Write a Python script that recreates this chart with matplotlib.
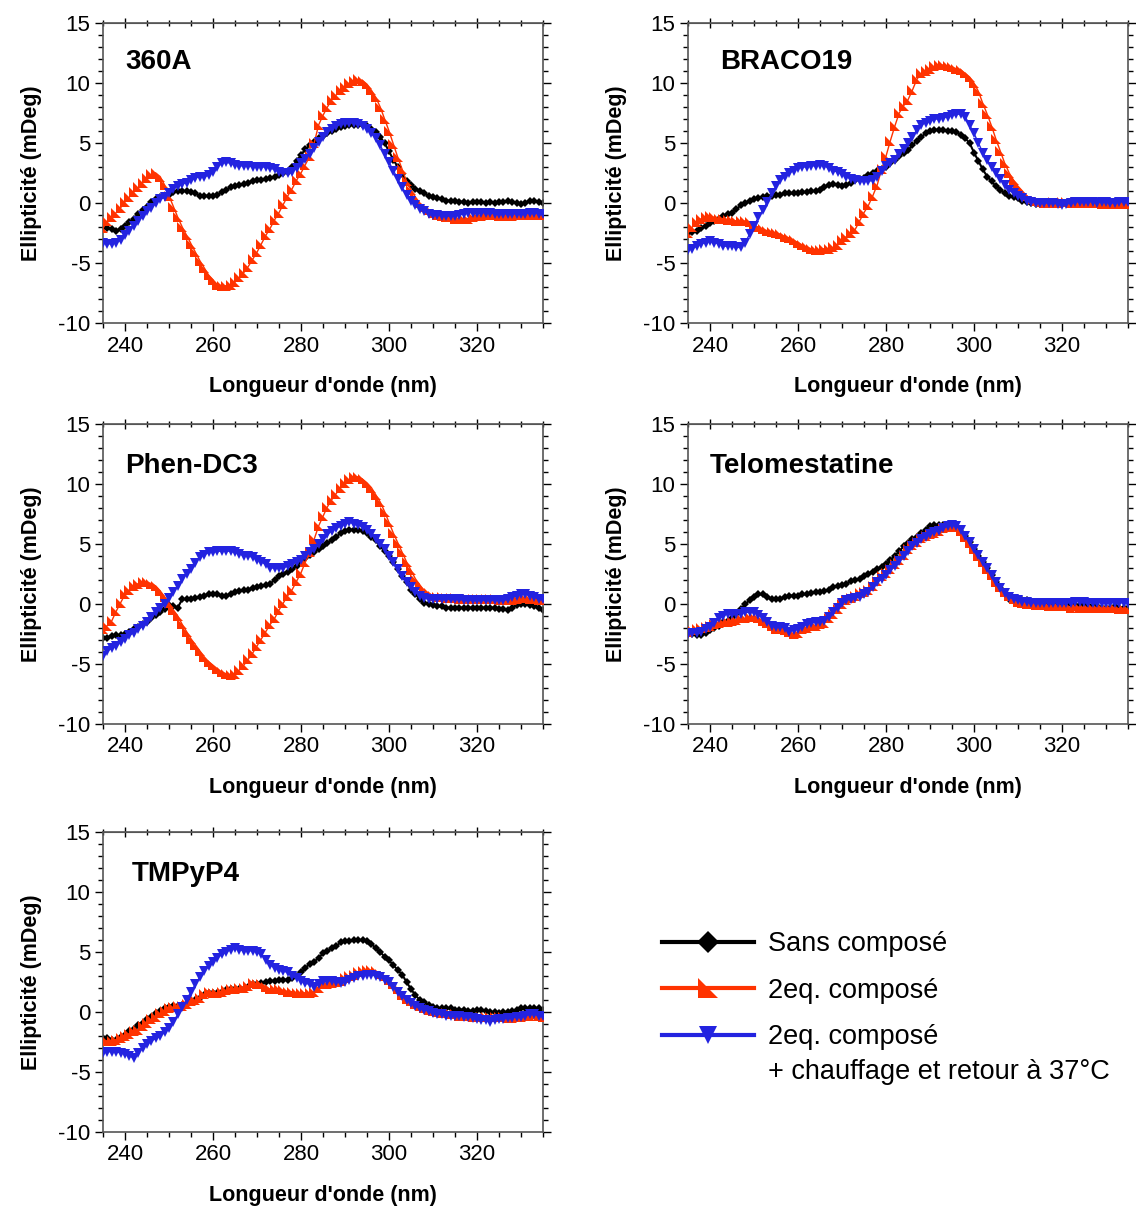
import numpy as np
import matplotlib
matplotlib.use("Agg")
import matplotlib.pyplot as plt
from matplotlib.lines import Line2D
from matplotlib.ticker import MultipleLocator

plt.rcParams['font.family'] = ['Liberation Sans', 'DejaVu Sans']
plt.rcParams['axes.unicode_minus'] = False

# wavelength grid (nm), one point per nm
wl = np.arange(235, 336)

# ---- 360A ----
sans_360a = [-2.0, -2.1, -2.2, -2.3, -2.2, -1.9, -1.6, -1.3, -0.9, -0.6,
             -0.3, 0.1, 0.3, 0.5, 0.6, 0.7, 0.9, 1.0, 1.0, 1.0,
             0.9, 0.8, 0.6, 0.6, 0.6, 0.6, 0.7, 0.9, 1.1, 1.3,
             1.4, 1.5, 1.6, 1.7, 1.8, 1.9, 1.9, 2.0, 2.1, 2.2,
             2.3, 2.5, 2.6, 3.0, 3.5, 4.0, 4.5, 4.8, 5.1, 5.4,
             5.6, 5.8, 6.0, 6.2, 6.3, 6.4, 6.5, 6.5, 6.5, 6.5,
             6.4, 6.2, 5.9, 5.5, 5.0, 4.3, 3.6, 3.0, 2.4, 1.8,
             1.5, 1.2, 1.0, 0.8, 0.6, 0.5, 0.4, 0.3, 0.2, 0.2,
             0.2, 0.1, 0.1, 0.0, 0.1, 0.1, 0.1, 0.0, 0.1, 0.0,
             0.1, 0.1, 0.2, 0.1, 0.0, -0.1, 0.0, 0.2, 0.2, 0.1,
             0.0]
eq2_360a = [-2.1, -1.5, -1.2, -0.8, -0.4, 0.1, 0.5, 0.9, 1.3, 1.7,
            2.1, 2.4, 2.5, 2.2, 1.5, 0.6, -0.3, -1.2, -2.0, -2.7,
            -3.4, -4.1, -4.8, -5.4, -6.0, -6.4, -6.8, -6.9, -6.9, -6.8,
            -6.6, -6.2, -5.8, -5.3, -4.7, -4.1, -3.4, -2.7, -2.1, -1.4,
            -0.8, -0.1, 0.6, 1.2, 1.9, 2.5, 3.2, 3.9, 5.0, 6.5,
            7.3, 8.0, 8.6, 9.0, 9.4, 9.7, 10.0, 10.2, 10.3, 10.2,
            9.9, 9.4, 8.8, 8.0, 7.0, 6.0, 4.9, 3.8, 2.8, 1.8,
            1.1, 0.5, 0.0, -0.3, -0.6, -0.8, -1.0, -1.1, -1.2, -1.2,
            -1.3, -1.3, -1.3, -1.3, -1.2, -1.1, -1.1, -1.0, -1.0, -1.0,
            -1.1, -1.1, -1.1, -1.1, -1.0, -1.0, -1.0, -1.0, -1.0, -1.0,
            -1.0]
chauf_360a = [-3.3, -3.4, -3.4, -3.3, -3.1, -2.7, -2.3, -1.9, -1.5, -1.1,
              -0.7, -0.4, 0.0, 0.3, 0.5, 0.8, 1.2, 1.4, 1.6, 1.7,
              1.9, 2.1, 2.2, 2.2, 2.3, 2.6, 3.0, 3.3, 3.4, 3.3,
              3.2, 3.1, 3.1, 3.1, 3.0, 3.0, 3.0, 3.0, 2.9, 2.8,
              2.6, 2.5, 2.5, 2.6, 2.9, 3.3, 3.7, 4.1, 4.6, 5.1,
              5.5, 5.9, 6.2, 6.4, 6.6, 6.7, 6.7, 6.7, 6.6, 6.4,
              6.2, 5.8, 5.4, 4.8, 4.1, 3.4, 2.7, 2.0, 1.3, 0.7,
              0.2, -0.2, -0.5, -0.7, -0.9, -1.0, -1.0, -1.1, -1.1, -1.1,
              -1.1, -1.0, -0.9, -0.8, -0.8, -0.8, -0.8, -0.8, -0.8, -0.9,
              -0.9, -0.9, -0.9, -0.9, -0.9, -0.9, -0.9, -0.8, -0.8, -0.9,
              -0.9]

# ---- BRACO19 ----
sans_braco = [-2.5, -2.4, -2.3, -2.1, -1.9, -1.7, -1.5, -1.3, -1.1, -0.9,
              -0.8, -0.5, -0.2, 0.0, 0.2, 0.3, 0.4, 0.5, 0.6, 0.6,
              0.7, 0.7, 0.8, 0.8, 0.8, 0.8, 0.9, 0.9, 1.0, 1.0,
              1.1, 1.3, 1.5, 1.6, 1.5, 1.4, 1.5, 1.7, 1.9, 2.0,
              2.1, 2.3, 2.5, 2.7, 2.8, 3.0, 3.3, 3.6, 3.9, 4.2,
              4.4, 4.8, 5.2, 5.5, 5.8, 6.0, 6.1, 6.1, 6.1, 6.0,
              6.0, 5.9, 5.7, 5.4, 5.0, 4.2, 3.5, 2.8, 2.2, 1.8,
              1.4, 1.1, 0.8, 0.6, 0.5, 0.4, 0.2, 0.1, 0.0, -0.1,
              -0.1, 0.0, 0.0, 0.0, -0.1, -0.1, 0.0, 0.0, 0.1, 0.0,
              0.0, 0.1, 0.0, 0.0, 0.0, 0.0, 0.1, 0.0, 0.0, -0.1,
              -0.1]
eq2_braco = [-2.5, -2.0, -1.6, -1.3, -1.2, -1.1, -1.2, -1.3, -1.3, -1.4,
             -1.4, -1.5, -1.5, -1.5, -1.6, -1.9, -2.0, -2.2, -2.3, -2.4,
             -2.5, -2.6, -2.8, -2.9, -3.1, -3.3, -3.5, -3.7, -3.8, -3.9,
             -3.9, -3.8, -3.8, -3.7, -3.5, -3.1, -2.8, -2.5, -2.2, -1.5,
             -0.8, -0.2, 0.6, 1.5, 2.8, 3.9, 5.2, 6.4, 7.5, 8.1,
             8.6, 9.4, 10.3, 10.8, 11.0, 11.2, 11.4, 11.5, 11.5, 11.4,
             11.3, 11.2, 11.1, 10.8, 10.5, 10.0, 9.3, 8.3, 7.4, 6.4,
             5.3, 4.3, 3.3, 2.5, 1.9, 1.4, 1.0, 0.6, 0.3, 0.2,
             0.1, 0.0, 0.0, 0.1, 0.0, 0.1, 0.1, 0.0, 0.1, 0.0,
             0.0, 0.1, 0.0, 0.0, -0.1, -0.1, 0.0, -0.1, -0.1, -0.1,
             -0.1]
chauf_braco = [-3.9, -3.8, -3.6, -3.4, -3.3, -3.2, -3.3, -3.4, -3.6, -3.6,
               -3.6, -3.7, -3.7, -3.3, -2.6, -1.9, -1.2, -0.6, 0.1, 0.8,
               1.4, 1.9, 2.2, 2.5, 2.7, 2.9, 3.0, 3.0, 3.1, 3.1,
               3.2, 3.1, 2.9, 2.7, 2.6, 2.4, 2.2, 2.0, 1.9, 1.8,
               1.8, 1.8, 1.9, 2.2, 2.7, 3.1, 3.3, 3.6, 4.1, 4.5,
               5.0, 5.5, 6.1, 6.5, 6.7, 6.8, 7.0, 7.0, 7.1, 7.2,
               7.3, 7.4, 7.4, 7.2, 6.5, 5.8, 5.0, 4.2, 3.6, 3.0,
               2.5, 2.0, 1.5, 1.1, 0.8, 0.6, 0.4, 0.2, 0.1, 0.0,
               0.0, 0.0, 0.0, 0.0, -0.1, -0.2, -0.1, 0.0, 0.1, 0.1,
               0.1, 0.1, 0.1, 0.0, 0.1, 0.1, 0.0, 0.0, 0.1, 0.1,
               0.1]

# ---- Phen-DC3 ----
sans_phen = [-2.8, -2.8, -2.7, -2.6, -2.6, -2.5, -2.3, -2.1, -1.9, -1.7,
             -1.5, -1.2, -0.9, -0.7, -0.4, -0.1, -0.2, -0.3, 0.4, 0.4,
             0.4, 0.5, 0.6, 0.7, 0.8, 0.8, 0.8, 0.7, 0.7, 0.8,
             1.0, 1.1, 1.2, 1.2, 1.3, 1.4, 1.5, 1.6, 1.7, 2.0,
             2.3, 2.5, 2.7, 2.9, 3.2, 3.5, 3.8, 4.1, 4.3, 4.6,
             4.8, 5.1, 5.3, 5.6, 5.9, 6.1, 6.2, 6.2, 6.2, 6.1,
             5.9, 5.6, 5.3, 4.8, 4.4, 4.0, 3.5, 2.9, 2.3, 1.8,
             1.2, 0.8, 0.4, 0.1, 0.0, -0.1, -0.2, -0.2, -0.3, -0.3,
             -0.3, -0.3, -0.3, -0.3, -0.3, -0.3, -0.3, -0.3, -0.3, -0.3,
             -0.4, -0.4, -0.5, -0.3, -0.1, 0.0, 0.0, -0.1, -0.2, -0.3,
             -0.5]
eq2_phen = [-2.1, -1.8, -1.4, -0.6, 0.1, 0.8, 1.2, 1.5, 1.7, 1.8,
            1.8, 1.7, 1.5, 1.1, 0.6, 0.1, -0.5, -1.0, -1.7, -2.3,
            -2.9, -3.4, -3.9, -4.4, -4.8, -5.1, -5.4, -5.7, -5.8, -5.9,
            -5.8, -5.5, -5.1, -4.6, -4.1, -3.5, -2.9, -2.3, -1.7, -1.2,
            -0.5, 0.1, 0.7, 1.2, 1.9, 2.6, 3.5, 4.3, 5.4, 6.5,
            7.3, 8.1, 8.7, 9.2, 9.7, 10.1, 10.4, 10.6, 10.6, 10.4,
            10.1, 9.7, 9.1, 8.5, 7.7, 6.8, 5.9, 5.1, 4.3, 3.5,
            2.8, 2.1, 1.6, 1.1, 0.9, 0.7, 0.6, 0.6, 0.5, 0.5,
            0.5, 0.4, 0.4, 0.4, 0.4, 0.4, 0.4, 0.4, 0.4, 0.4,
            0.3, 0.3, 0.3, 0.3, 0.4, 0.6, 0.5, 0.4, 0.4, 0.3,
            0.3]
chauf_phen = [-4.3, -3.9, -3.7, -3.5, -3.2, -2.9, -2.6, -2.4, -2.1, -1.8,
              -1.5, -1.1, -0.7, -0.3, 0.0, 0.5, 1.0, 1.5, 2.1, 2.5,
              2.9, 3.4, 3.9, 4.1, 4.3, 4.3, 4.4, 4.4, 4.4, 4.4,
              4.3, 4.2, 4.0, 4.0, 3.9, 3.7, 3.5, 3.3, 3.0, 3.0,
              3.0, 3.0, 3.2, 3.3, 3.5, 3.7, 4.0, 4.3, 4.6, 5.0,
              5.4, 5.8, 6.1, 6.3, 6.5, 6.7, 6.8, 6.7, 6.6, 6.4,
              6.2, 5.8, 5.4, 5.0, 4.6, 4.0, 3.5, 2.9, 2.3, 1.8,
              1.4, 1.0, 0.7, 0.5, 0.4, 0.4, 0.4, 0.4, 0.4, 0.4,
              0.4, 0.4, 0.3, 0.3, 0.3, 0.3, 0.3, 0.3, 0.3, 0.3,
              0.3, 0.3, 0.4, 0.6, 0.7, 0.8, 0.8, 0.7, 0.6, 0.4,
              0.4]

# ---- Telomestatine ----
sans_telo = [-2.5, -2.5, -2.6, -2.6, -2.4, -2.2, -2.0, -1.8, -1.5, -1.4,
             -1.2, -0.8, -0.4, 0.0, 0.3, 0.6, 0.8, 0.8, 0.6, 0.4,
             0.4, 0.4, 0.6, 0.7, 0.7, 0.7, 0.8, 0.8, 0.9, 1.0,
             1.0, 1.1, 1.2, 1.4, 1.5, 1.6, 1.7, 1.9, 2.0, 2.1,
             2.3, 2.5, 2.7, 2.9, 3.1, 3.3, 3.7, 4.0, 4.4, 4.8,
             5.1, 5.4, 5.6, 5.9, 6.2, 6.5, 6.6, 6.6, 6.6, 6.6,
             6.5, 6.3, 6.0, 5.7, 5.2, 4.6, 4.0, 3.5, 3.0, 2.4,
             1.8, 1.3, 0.8, 0.4, 0.3, 0.3, 0.3, 0.3, 0.2, 0.2,
             0.1, 0.1, 0.0, 0.0, 0.0, 0.0, -0.1, 0.0, -0.1, -0.1,
             -0.1, -0.1, -0.2, -0.2, -0.3, -0.3, -0.3, -0.2, -0.3, -0.3,
             -0.3]
eq2_telo = [-2.3, -2.2, -2.1, -2.0, -1.9, -1.8, -1.7, -1.6, -1.5, -1.5,
            -1.4, -1.3, -1.2, -1.2, -1.1, -1.1, -1.2, -1.4, -1.6, -1.8,
            -2.1, -2.1, -2.2, -2.3, -2.5, -2.4, -2.1, -2.0, -1.8, -1.8,
            -1.7, -1.6, -1.2, -0.8, -0.4, 0.0, 0.3, 0.5, 0.7, 0.9,
            1.0, 1.2, 1.5, 1.9, 2.3, 2.6, 2.9, 3.3, 3.7, 4.1,
            4.6, 4.9, 5.2, 5.5, 5.7, 5.8, 5.9, 6.1, 6.3, 6.4,
            6.5, 6.4, 6.1, 5.6, 5.1, 4.6, 4.0, 3.5, 2.9, 2.4,
            1.8, 1.4, 1.0, 0.7, 0.4, 0.2, 0.1, 0.0, 0.0, -0.1,
            -0.1, -0.1, -0.2, -0.2, -0.2, -0.2, -0.2, -0.3, -0.2, -0.3,
            -0.3, -0.3, -0.3, -0.3, -0.3, -0.3, -0.3, -0.3, -0.4, -0.4,
            -0.4]
chauf_telo = [-2.5, -2.4, -2.4, -2.3, -2.1, -1.9, -1.6, -1.2, -1.0, -0.8,
              -0.8, -0.8, -0.8, -0.7, -0.7, -0.7, -0.9, -1.2, -1.5, -1.8,
              -1.9, -1.9, -2.0, -2.3, -2.2, -2.1, -1.9, -1.7, -1.6, -1.5,
              -1.5, -1.4, -1.1, -0.7, -0.3, 0.1, 0.3, 0.4, 0.5, 0.6,
              0.8, 1.0, 1.4, 1.8, 2.1, 2.4, 2.8, 3.2, 3.6, 4.0,
              4.4, 4.8, 5.1, 5.4, 5.6, 5.8, 6.0, 6.1, 6.3, 6.5,
              6.6, 6.5, 6.2, 5.7, 5.2, 4.6, 4.1, 3.5, 3.0, 2.4,
              1.8, 1.3, 0.9, 0.6, 0.4, 0.3, 0.2, 0.2, 0.1, 0.1,
              0.1, 0.1, 0.1, 0.1, 0.1, 0.1, 0.1, 0.1, 0.2, 0.2,
              0.2, 0.1, 0.1, 0.1, 0.1, 0.1, 0.1, 0.1, 0.1, 0.1,
              0.1]

# ---- TMPyP4 ----
sans_tmpy = [-2.2, -2.2, -2.3, -2.3, -2.1, -1.9, -1.6, -1.4, -1.1, -0.9,
             -0.6, -0.4, -0.1, 0.1, 0.3, 0.4, 0.5, 0.5, 0.6, 0.7,
             0.9, 1.0, 1.2, 1.4, 1.6, 1.6, 1.6, 1.7, 1.8, 1.9,
             1.9, 1.9, 1.9, 2.1, 2.3, 2.3, 2.4, 2.5, 2.6, 2.6,
             2.7, 2.7, 2.7, 2.8, 3.0, 3.3, 3.7, 4.0, 4.2, 4.5,
             4.9, 5.1, 5.3, 5.5, 5.8, 5.9, 5.9, 6.0, 6.0, 6.0,
             5.9, 5.7, 5.3, 5.0, 4.6, 4.3, 3.9, 3.5, 3.1, 2.5,
             1.9, 1.4, 1.0, 0.8, 0.6, 0.4, 0.3, 0.3, 0.3, 0.3,
             0.2, 0.2, 0.2, 0.1, 0.1, 0.2, 0.2, 0.1, 0.0, 0.0,
             -0.1, 0.0, 0.0, 0.1, 0.2, 0.3, 0.3, 0.3, 0.3, 0.3,
             0.2]
eq2_tmpy = [-2.4, -2.4, -2.4, -2.3, -2.2, -2.0, -1.8, -1.6, -1.5, -1.2,
            -0.9, -0.6, -0.4, -0.1, 0.1, 0.3, 0.4, 0.5, 0.5, 0.7,
            0.9, 1.0, 1.2, 1.5, 1.7, 1.6, 1.6, 1.7, 1.8, 1.9,
            1.9, 2.0, 2.0, 2.2, 2.4, 2.3, 2.3, 2.1, 1.9, 1.9,
            1.9, 1.8, 1.7, 1.7, 1.6, 1.6, 1.6, 1.6, 1.7, 2.0,
            2.3, 2.3, 2.4, 2.5, 2.6, 2.8, 3.0, 3.1, 3.3, 3.4,
            3.5, 3.5, 3.4, 3.2, 3.0, 2.7, 2.3, 1.9, 1.4, 1.1,
            0.9, 0.7, 0.5, 0.3, 0.2, 0.1, 0.0, -0.1, -0.1, -0.2,
            -0.2, -0.3, -0.3, -0.3, -0.4, -0.4, -0.4, -0.4, -0.4, -0.4,
            -0.4, -0.4, -0.5, -0.5, -0.4, -0.4, -0.3, -0.3, -0.2, -0.3,
            -0.4]
chauf_tmpy = [-3.4, -3.3, -3.3, -3.3, -3.4, -3.5, -3.7, -3.8, -3.4, -3.0,
              -2.7, -2.4, -2.2, -2.0, -1.7, -1.3, -0.8, -0.2, 0.4, 1.0,
              1.7, 2.3, 2.9, 3.4, 3.8, 4.2, 4.5, 4.8, 5.0, 5.2,
              5.3, 5.2, 5.1, 5.1, 5.1, 5.0, 4.8, 4.3, 3.9, 3.7,
              3.5, 3.4, 3.3, 3.0, 2.8, 2.6, 2.4, 2.3, 2.1, 2.3,
              2.6, 2.6, 2.6, 2.5, 2.4, 2.5, 2.7, 2.8, 3.0, 3.0,
              3.1, 3.1, 3.0, 2.9, 2.7, 2.5, 2.1, 1.7, 1.3, 1.0,
              0.75, 0.5, 0.3, 0.2, 0.05, -0.1, -0.2, -0.2, -0.3, -0.3,
              -0.3, -0.3, -0.4, -0.4, -0.5, -0.6, -0.7, -0.7, -0.8, -0.7,
              -0.6, -0.6, -0.5, -0.5, -0.4, -0.4, -0.3, -0.2, -0.2, -0.3,
              -0.3]

titles = ['360A', 'BRACO19', 'Phen-DC3', 'Telomestatine', 'TMPyP4']
sans_all = [sans_360a, sans_braco, sans_phen, sans_telo, sans_tmpy]
eq2_all = [eq2_360a, eq2_braco, eq2_phen, eq2_telo, eq2_tmpy]
chauf_all = [chauf_360a, chauf_braco, chauf_phen, chauf_telo, chauf_tmpy]
legend_labels = ['Sans composé', '2eq. composé', '2eq. composé']

col_black = '#000000'
col_red = '#ff3300'
col_blue = '#2323e0'
tri_red = [(-1, 1), (-1, -1), (1, -1)]

W, H = 1136, 1209
fig = plt.figure(figsize=(W / 100, H / 100), dpi=100)

# axes boxes in pixels: left, top
boxes = [(103, 23), (688, 23), (103, 424), (688, 424), (103, 832)]
aw, ah = 440, 300
title_pos = [(0.05, 0.87), (0.072, 0.87), (0.05, 0.86), (0.05, 0.86), (0.065, 0.86)]

for i in range(5):
    left, top = boxes[i]
    ax = fig.add_axes([left / W, 1 - (top + ah) / H, aw / W, ah / H])

    ax.plot(wl, sans_all[i], color=col_black, lw=1.5, marker='D', ms=4.5,
            mew=0, zorder=2)
    ax.plot(wl, eq2_all[i], color=col_red, lw=1, marker=tri_red, ms=7,
            mew=0, zorder=3)
    ax.plot(wl, chauf_all[i], color=col_blue, lw=1, marker='v', ms=7,
            mew=0, zorder=4)

    ax.set_xlim(235, 335)
    ax.set_ylim(-10, 15)
    ax.xaxis.set_major_locator(MultipleLocator(20))
    ax.xaxis.set_minor_locator(MultipleLocator(5))
    ax.yaxis.set_major_locator(MultipleLocator(5))
    ax.yaxis.set_minor_locator(MultipleLocator(1))

    for s in ax.spines.values():
        s.set_color('#555555')
        s.set_linewidth(1.2)

    ax.tick_params(which='both', direction='out', labelsize=16, pad=3,
                   top=False, right=True, width=1)
    ax.tick_params(which='major', length=6)
    ax.tick_params(which='minor', length=3.5)

    # top ticks cross the frame
    sec = ax.secondary_xaxis('top')
    sec.xaxis.set_major_locator(MultipleLocator(20))
    sec.xaxis.set_minor_locator(MultipleLocator(5))
    sec.tick_params(which='both', direction='inout', labeltop=False, width=1)
    sec.tick_params(which='major', length=7)
    sec.tick_params(which='minor', length=5)
    sec.spines['top'].set_color('#555555')

    ax.set_xlabel("Longueur d'onde (nm)", fontsize=15.5, fontweight='bold',
                  labelpad=14)
    ax.set_ylabel('Ellipticité (mDeg)', fontsize=15.5, fontweight='bold',
                  labelpad=12)
    ax.text(title_pos[i][0], title_pos[i][1], titles[i], transform=ax.transAxes,
            fontsize=20, fontweight='bold', va='center', ha='left')

# legend
handles = [
    Line2D([], [], color=col_black, lw=3, marker='D', ms=11, mew=0),
    Line2D([], [], color=col_red, lw=3, marker=tri_red, ms=15, mew=0),
    Line2D([], [], color=col_blue, lw=3, marker='v', ms=13, mew=0),
]
fig.legend(handles, legend_labels, loc='upper left',
           bbox_to_anchor=(638 / W, 1 - 907 / H), frameon=False,
           fontsize=19.5, handlelength=3.4, handletextpad=0.5,
           labelspacing=0.75)
fig.text(768 / W, 1 - 1072 / H, '+ chauffage et retour à 37°C',
         fontsize=19.5, va='center', ha='left')

fig.savefig('out.png', dpi=100)
